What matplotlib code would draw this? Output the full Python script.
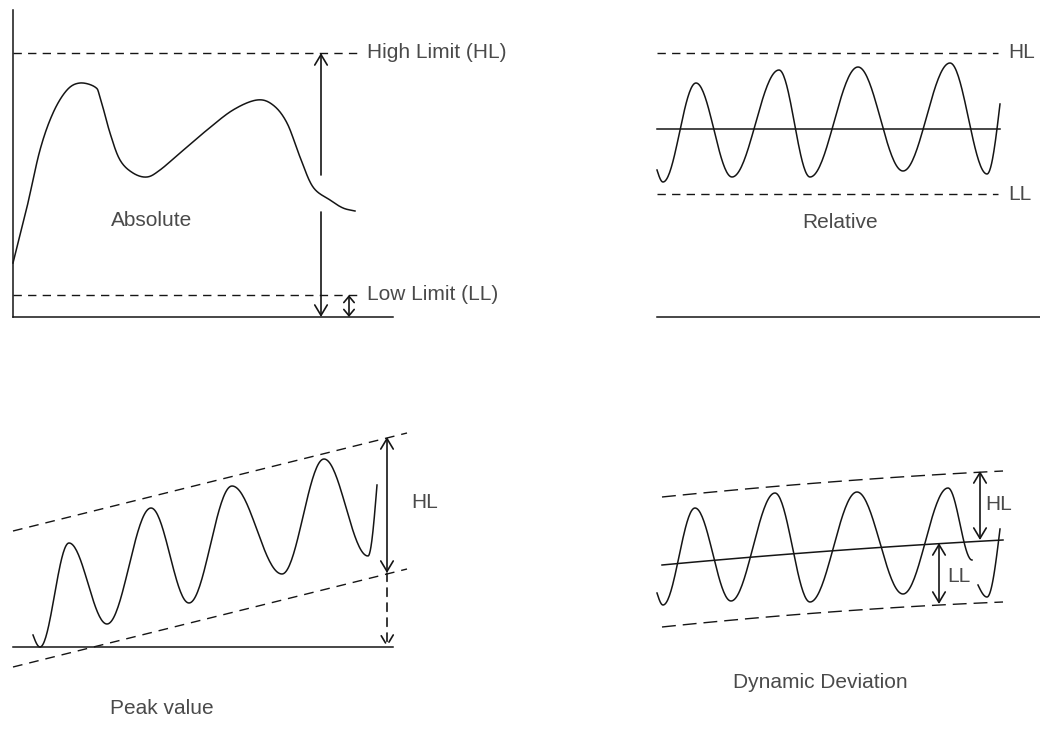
import numpy as np
import matplotlib
matplotlib.use("Agg")
import matplotlib.pyplot as plt

# ---------------- data (pixel space) ----------------
# Panel 1: Absolute
abs_curve_x = [13, 27, 40, 53, 67, 80, 95, 100, 110, 120, 133, 147, 160, 180, 207, 233, 257, 273, 287, 300, 313, 330, 343, 355]
abs_curve_y = [263, 207, 150, 113, 90, 83, 87, 97, 133, 160, 173, 177, 170, 153, 130, 110, 100, 105, 123, 157, 187, 200, 208, 211]
abs_hl_y, abs_ll_y, abs_base_y = 53, 295, 317
abs_labels = ["High Limit (HL)", "Low Limit (LL)", "Absolute"]

# Panel 2: Relative (extrema of the oscillation)
rel_x = [657, 663, 696, 732, 779, 810, 858, 903, 950, 987, 1000]
rel_y = [170, 182, 83, 177, 70, 177, 67, 171, 63, 174, 104]
rel_hl_y, rel_ll_y, rel_mid_y, rel_base_y = 53, 194, 129, 317
rel_labels = ["HL", "LL", "Relative"]

# Panel 3: Peak value
peak_x = [33, 40, 69, 107, 151, 189, 232, 282, 324, 368, 377]
peak_y = [635, 647, 543, 624, 508, 603, 486, 574, 459, 556, 485]
peak_upper = ([13, 407], [531, 433])
peak_lower = ([13, 407], [667, 569])
peak_base_y = 647
peak_labels = ["HL", "Peak value"]

# Panel 4: Dynamic deviation
dyn_x = [657, 663, 695, 731, 775, 810, 857, 903, 948, 972]
dyn_y = [593, 605, 508, 601, 493, 602, 492, 594, 488, 560]
dyn_tail_x = [978, 987, 1000]
dyn_tail_y = [585, 597, 529]
dyn_upper = ([662, 830, 1003], [497, 482, 471])
dyn_mid = ([662, 830, 1003], [565, 551, 540])
dyn_lower = ([662, 830, 1003], [627, 612, 602])
dyn_labels = ["HL", "LL", "Dynamic Deviation"]

# ---------------- helpers ----------------
LC = "#151515"
TC = "#4a4a4a"
FONT = dict(family=["Liberation Sans", "DejaVu Sans"], fontsize=15, color=TC)


def catmull(xs, ys, n=20):
    P = np.column_stack([xs, ys]).astype(float)
    P = np.vstack([2 * P[0] - P[1], P, 2 * P[-1] - P[-2]])
    out = []
    for i in range(1, len(P) - 2):
        p0, p1, p2, p3 = P[i - 1], P[i], P[i + 1], P[i + 2]
        t = np.linspace(0, 1, n, endpoint=False)[:, None]
        pts = 0.5 * ((2 * p1) + (-p0 + p2) * t + (2 * p0 - 5 * p1 + 4 * p2 - p3) * t ** 2
                     + (-p0 + 3 * p1 - 3 * p2 + p3) * t ** 3)
        out.append(pts)
    out.append(P[-2][None, :])
    A = np.vstack(out)
    return A[:, 0], A[:, 1]


def wave(xs, ys, n=40, steep_start=True, steep_end=True):
    X, Y = [], []
    m = len(xs) - 1
    for i in range(m):
        t = np.linspace(0, 1, n, endpoint=False)
        if i == 0 and steep_start:
            s = np.sin(np.pi / 2 * t)
        elif i == m - 1 and steep_end:
            s = 1 - np.cos(np.pi / 2 * t)
        else:
            s = (1 - np.cos(np.pi * t)) / 2
        X.append(xs[i] + (xs[i + 1] - xs[i]) * t)
        Y.append(ys[i] + (ys[i + 1] - ys[i]) * s)
    X.append([xs[-1]])
    Y.append([ys[-1]])
    return np.concatenate(X), np.concatenate(Y)


def quad(xs, ys, n=100):
    c = np.polyfit(xs, ys, 2)
    x = np.linspace(xs[0], xs[-1], n)
    return x, np.polyval(c, x)


def arrow(ax, x, y0, y1, style="<->", ls="-", hl=0.5, hw=0.3):
    ax.annotate("", xy=(x, y1), xytext=(x, y0),
                arrowprops=dict(arrowstyle=f"{style},head_length={hl},head_width={hw}",
                                color=LC, lw=1.2, linestyle=ls,
                                shrinkA=0, shrinkB=0, mutation_scale=15))


fig = plt.figure(figsize=(10.4, 7.4), dpi=100)
ax = fig.add_axes([0, 0, 1, 1])
ax.set_xlim(0, 1040)
ax.set_ylim(740, 0)
ax.axis("off")

# ---------------- Panel 1 ----------------
ax.plot([13, 13], [10, abs_base_y], color=LC, lw=1.1)
ax.plot([13, 393], [abs_base_y, abs_base_y], color=LC, lw=1.1)
ax.plot([13, 357], [abs_hl_y, abs_hl_y], color=LC, lw=1.0, dashes=(6, 4.5))
ax.plot([13, 357], [abs_ll_y, abs_ll_y], color=LC, lw=1.0, dashes=(6, 4.5))
x, y = catmull(abs_curve_x, abs_curve_y)
ax.plot(x, y, color=LC, lw=1.1)
arrow(ax, 321, 175, abs_hl_y, style="->")
arrow(ax, 321, 212, abs_base_y, style="->")
arrow(ax, 349, abs_ll_y, abs_base_y, style="<->", hl=0.3, hw=0.25)
ax.text(367, abs_hl_y, abs_labels[0], ha="left", va="center", **FONT)
ax.text(367, abs_ll_y, abs_labels[1], ha="left", va="center", **FONT)
ax.text(152, 221, abs_labels[2], ha="center", va="center", **FONT)

# ---------------- Panel 2 ----------------
ax.plot([657, 998], [rel_hl_y, rel_hl_y], color=LC, lw=1.0, dashes=(6, 4.5))
ax.plot([657, 998], [rel_ll_y, rel_ll_y], color=LC, lw=1.0, dashes=(6, 4.5))
ax.plot([657, 1000], [rel_mid_y, rel_mid_y], color=LC, lw=1.1)
ax.plot([657, 1040], [rel_base_y, rel_base_y], color=LC, lw=1.1)
x, y = wave(rel_x, rel_y)
ax.plot(x, y, color=LC, lw=1.1)
ax.text(1008, rel_hl_y, rel_labels[0], ha="left", va="center", **FONT)
ax.text(1008, rel_ll_y, rel_labels[1], ha="left", va="center", **FONT)
ax.text(840, 222, rel_labels[2], ha="center", va="center", **FONT)

# ---------------- Panel 3 ----------------
ax.plot([13, 393], [peak_base_y, peak_base_y], color=LC, lw=1.1)
ax.plot(*peak_upper, color=LC, lw=1.0, dashes=(7, 5))
ax.plot(*peak_lower, color=LC, lw=1.0, dashes=(7, 5))
x, y = wave(peak_x, peak_y)
ax.plot(x, y, color=LC, lw=1.1)
arrow(ax, 387, 573, 437)
arrow(ax, 387, 573, peak_base_y, style="->", ls=(0, (5, 4)))
ax.text(411, 503, peak_labels[0], ha="left", va="center", **FONT)
ax.text(162, 708, peak_labels[1], ha="center", va="center", **FONT)

# ---------------- Panel 4 ----------------
ax.plot(*quad(*dyn_upper), color=LC, lw=1.0, dashes=(10, 5))
ax.plot(*quad(*dyn_lower), color=LC, lw=1.0, dashes=(10, 5))
ax.plot(*quad(*dyn_mid), color=LC, lw=1.1)
x, y = wave(dyn_x, dyn_y, steep_end=False)
ax.plot(x, y, color=LC, lw=1.1)
x, y = wave(dyn_tail_x, dyn_tail_y)
ax.plot(x, y, color=LC, lw=1.1)
arrow(ax, 980, 540, 471)
arrow(ax, 939, 604, 543)
ax.text(985, 505, dyn_labels[0], ha="left", va="center", **FONT)
ax.text(947, 576, dyn_labels[1], ha="left", va="center", **FONT)
ax.text(820, 683, dyn_labels[2], ha="center", va="center", **FONT)

fig.savefig("out.png", dpi=100)
